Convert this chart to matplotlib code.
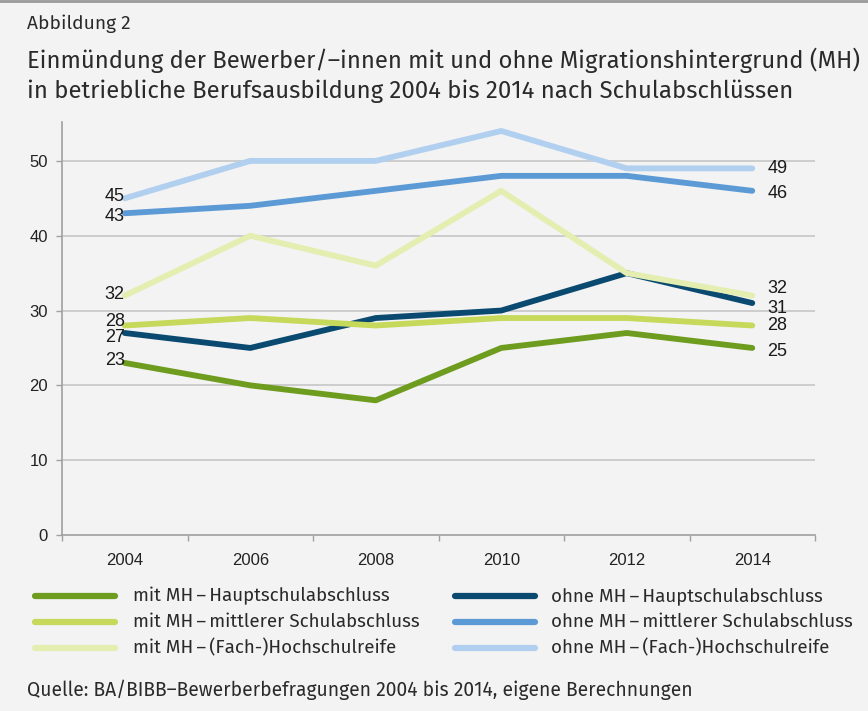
import matplotlib
matplotlib.use("Agg")
import matplotlib.pyplot as plt
from matplotlib.lines import Line2D

years = [2004, 2006, 2008, 2010, 2012, 2014]
series_names = [
    "mit MH\u2009\u2013\u2009Hauptschulabschluss",
    "mit MH\u2009\u2013\u2009mittlerer Schulabschluss",
    "mit MH\u2009\u2013\u2009(Fach-)Hochschulreife",
    "ohne MH\u2009\u2013\u2009Hauptschulabschluss",
    "ohne MH\u2009\u2013\u2009mittlerer Schulabschluss",
    "ohne MH\u2009\u2013\u2009(Fach-)Hochschulreife",
]
mit_haupt = [23, 20, 18, 25, 27, 25]
mit_mittel = [28, 29, 28, 29, 29, 28]
mit_hoch = [32, 40, 36, 46, 35, 32]
ohne_haupt = [27, 25, 29, 30, 35, 31]
ohne_mittel = [43, 44, 46, 48, 48, 46]
ohne_hoch = [45, 50, 50, 54, 49, 49]
colors = ["#6e9c1e", "#c6d95b", "#e4eeb0", "#0b4a70", "#5c9ad6", "#b1cfef"]
all_series = [mit_haupt, mit_mittel, mit_hoch, ohne_haupt, ohne_mittel, ohne_hoch]

bg = "#f3f3f3"
W, H = 868, 711
fig = plt.figure(figsize=(W / 100, H / 100), dpi=100, facecolor=bg)
ax = fig.add_axes([62 / W, 1 - 535 / H, (815 - 62) / W, (535 - 122) / H])
ax.set_facecolor(bg)

x = list(range(len(years)))
draw_order = [5, 4, 2, 3, 1, 0]
for i in draw_order:
    ax.plot(x, all_series[i], color=colors[i], lw=4.2, solid_capstyle="round",
            solid_joinstyle="round", zorder=3 + (5 - i) * 0.01)

ax.set_xlim(-0.5, len(years) - 0.5)
ax.set_ylim(0, 55.2)
ax.set_yticks([0, 10, 20, 30, 40, 50])
ax.set_xticks(x)
ax.set_xticklabels([str(y) for y in years])
ax.set_xticks([i - 0.5 for i in range(len(years) + 1)], minor=True)
ax.tick_params(axis="x", which="major", length=0, pad=13)
ax.tick_params(axis="x", which="minor", length=4, color="#a0a0a0", width=1)
ax.tick_params(axis="y", length=4, color="#a0a0a0", width=1, pad=6)
for lab in ax.get_xticklabels() + ax.get_yticklabels():
    lab.set_fontfamily("Liberation Sans")
    lab.set_fontsize(12)
    lab.set_color("#222222")

for yv in [10, 20, 30, 40, 50]:
    ax.axhline(yv, color="#c6c6c6", lw=1.2, zorder=1)
for s in ["top", "right"]:
    ax.spines[s].set_visible(False)
for s in ["left", "bottom"]:
    ax.spines[s].set_color("#a0a0a0")
    ax.spines[s].set_linewidth(1.2)

# value labels at the first and last points
left_offsets = {0: 0.3, 1: 0.6, 2: 0.1, 3: -0.6, 4: -0.4, 5: 0.3}
right_offsets = {0: -0.5, 1: 0.0, 2: 0.9, 3: -0.7, 4: -0.3, 5: 0.0}
for i, s in enumerate(all_series):
    ax.text(x[0] - 0.0, s[0] + left_offsets[i], f"{s[0]}", ha="right", va="center",
            fontsize=13, family="Liberation Sans", color="#1a1a1a", zorder=5)
    ax.text(x[-1] + 0.12, s[-1] + right_offsets[i], f"{s[-1]}", ha="left", va="center",
            fontsize=13, family="Liberation Sans", color="#1a1a1a", zorder=5)

# text in a humanist sans, sized so the widths match the reference
tfam = ["Fira Sans", "Open Sans", "DejaVu Sans"]
renderer = fig.canvas.get_renderer()


def fit_text(xpx, ypx, s, width_px, size0=12):
    t = fig.text(xpx / W, 1 - ypx / H, s, fontsize=size0, family=tfam,
                 color="#2a2a2a", va="center", ha="left")
    w = t.get_window_extent(renderer=renderer).width
    t.set_fontsize(size0 * width_px / w)
    return t


fit_text(27, 24, "Abbildung 2", 103)
fit_text(27, 60,
         "Einmündung der Bewerber/\u2013innen mit und ohne Migrationshintergrund (MH)", 832)
fit_text(27, 91,
         "in betriebliche Berufsausbildung 2004 bis 2014 nach Schulabschlüssen", 764)

# legend
rows = [596, 622, 648]
cols = [(35, 115, 133), (455, 535, 551)]
fit_sizes = []
for i, name in enumerate(series_names):
    c = i // 3
    r = i % 3
    x0, x1, xt = cols[c]
    yy = 1 - rows[r] / H
    fig.add_artist(Line2D([x0 / W, x1 / W], [yy, yy], color=colors[i], lw=4.5,
                          solid_capstyle="round", transform=fig.transFigure))
    t = fig.text(xt / W, yy, name, fontsize=12, family=tfam, color="#2a2a2a",
                 va="center", ha="left")
    fit_sizes.append(t)
w0 = fit_sizes[0].get_window_extent(renderer=renderer).width
leg_size = 12 * 257 / w0
for t in fit_sizes:
    t.set_fontsize(leg_size)

fit_text(27, 690,
         "Quelle: BA/BIBB\u2013Bewerberbefragungen 2004 bis 2014, eigene Berechnungen", 666)

fig.add_artist(Line2D([0, 1], [1 - 1 / H, 1 - 1 / H], color="#9a9a9a", lw=2,
                      transform=fig.transFigure))

fig.savefig("out.png", dpi=100, facecolor=bg)
